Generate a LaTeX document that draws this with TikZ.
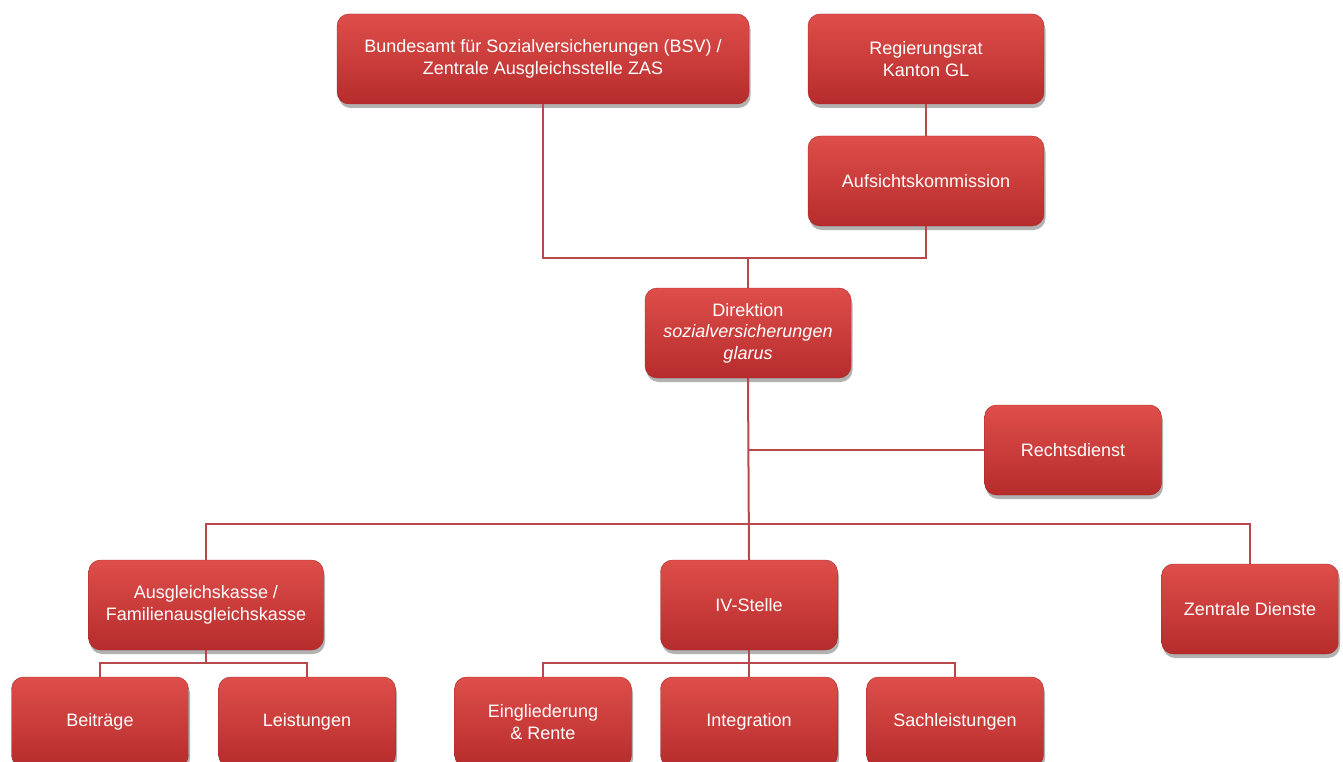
\documentclass[tikz,border=0pt]{standalone}
\usepackage{fontspec}
\setmainfont{Liberation Sans}
\usepackage{tikz}
\usetikzlibrary{positioning,calc,shadows}
\definecolor{boxtop}{RGB}{222,78,74}
\definecolor{boxbot}{RGB}{182,44,44}
\definecolor{linkred}{RGB}{184,72,76}
\tikzset{
    every picture/.style={line width=0.5pt},
    unit/.style={rectangle,rounded corners=12pt,minimum height=90pt,inner sep=2pt,
        top color=boxtop,bottom color=boxbot,draw=boxbot!90!black,line width=0.4pt,
        text=white,align=center,font=\fontsize{18}{21.5}\selectfont,
        drop shadow={shadow xshift=1.5pt,shadow yshift=-4pt,opacity=0.3,fill=black}},
    link/.style={draw=linkred,line width=2pt}
}

\begin{document}
\begin{tikzpicture}[x=1pt,y=-1pt]
        \useasboundingbox (0,0) rectangle (1343,762);
        \clip (0,0) rectangle (1343,762);
        % Top level
        \node[unit,minimum width=412pt] (bsv) at (543,59)
            {Bundesamt für Sozialversicherungen (BSV) /\\Zentrale Ausgleichsstelle ZAS};
        \node[unit,minimum width=236pt] (reg) at (926,59) {Regierungsrat\\Kanton GL};
        \node[unit,minimum width=236pt] (auf) at (926,181) {Aufsichtskommission};

        % Direktion
        \node[unit,minimum width=206pt] (dir) at (748,333)
            {Direktion\\\textit{sozialversicherungen}\\\textit{glarus}};
        \node[unit,minimum width=177pt] (rd) at (1073,450) {Rechtsdienst};

        % Second level
        \node[unit,minimum width=235pt] (ak) at (206,605) {Ausgleichskasse /\\Familienausgleichskasse};
        \node[unit,minimum width=177pt] (iv) at (749,605) {IV-Stelle};
        \node[unit,minimum width=177pt] (zd) at (1250,609) {Zentrale Dienste};

        % Third level
        \node[unit,minimum width=177pt] (bei) at (100,722) {Beiträge};
        \node[unit,minimum width=177pt] (lei) at (307,722) {Leistungen};
        \node[unit,minimum width=177pt] (ein) at (543,722) {Eingliederung\\\& Rente};
        \node[unit,minimum width=177pt] (int) at (749,722) {Integration};
        \node[unit,minimum width=177pt] (sach) at (955,722) {Sachleistungen};

        % Connectors
        \coordinate (topj) at (748,258);
        \coordinate (midj) at (748,524);
        \coordinate (akj) at (206,663);
        \coordinate (ivj) at (749,663);
        \begin{scope}[on background layer/.try]
        \draw[link] (reg.south) -- (auf.north);
        \draw[link] (bsv.south) |- (topj);
        \draw[link] (auf.south) |- (topj);
        \draw[link] (topj) -- (dir.north);
        \draw[link] (dir.south) -- (iv.north);
        \draw[link] (dir.south |- rd.west) -- (rd.west);
        \draw[link] (ak.north) |- (midj) -| (zd.north);
        \draw[link] (ak.south) -- (akj);
        \draw[link] (bei.north) |- (akj) -| (lei.north);
        \draw[link] (iv.south) -- (ivj);
        \draw[link] (ein.north) |- (ivj) -| (sach.north);
        \draw[link] (ivj) -- (int.north);
        \end{scope}
\end{tikzpicture}
\end{document}
